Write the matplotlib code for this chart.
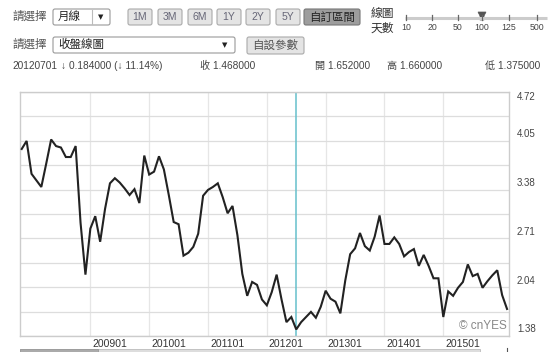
import matplotlib
matplotlib.use("Agg")
import matplotlib.pyplot as plt
from matplotlib.patches import FancyBboxPatch, Polygon, Rectangle
import numpy as np
import pandas as pd

plt.rcParams['font.family'] = ['Liberation Sans', 'Noto Sans CJK TC', 'DejaVu Sans']

# ----------------------------------------------------------------------
# data: monthly close, 2007-11 .. 2016-02 (100 months)
# ----------------------------------------------------------------------
start_month = '2007-11'
close = [3.94, 4.05, 3.60, 3.51, 3.42, 3.74, 4.07, 3.98, 3.96, 3.83,
         3.83, 3.98, 2.93, 2.22, 2.85, 3.02, 2.67, 3.12, 3.47, 3.54,
         3.48, 3.40, 3.31, 3.39, 3.20, 3.85, 3.59, 3.63, 3.84, 3.66,
         3.31, 2.94, 2.91, 2.48, 2.52, 2.60, 2.78, 3.30, 3.38, 3.42,
         3.47, 3.28, 3.06, 3.16, 2.76, 2.23, 1.93, 2.12, 2.08, 1.88,
         1.80, 1.98, 2.22, 1.88, 1.57, 1.64, 1.47, 1.57, 1.64, 1.71,
         1.63, 1.78, 2.00, 1.89, 1.85, 1.69, 2.14, 2.50, 2.58, 2.79,
         2.61, 2.55, 2.74, 3.03, 2.64, 2.64, 2.73, 2.64, 2.47, 2.53,
         2.57, 2.34, 2.49, 2.34, 2.17, 2.17, 1.64, 1.99, 1.93, 2.04,
         2.12, 2.36, 2.20, 2.23, 2.04, 2.13, 2.21, 2.28, 1.94, 1.75]
x_labels = ['200901', '201001', '201101', '201201', '201301', '201401', '201501']
y_labels = ['1.38', '2.04', '2.71', '3.38', '4.05', '4.72']
y_min, y_max = 1.38, 4.72
cursor_month = '2012-07'

info_date = '20120701'
info_change = '↓ 0.184000 (↓ 11.14%)'
info_close = '收 1.468000'
info_open = '開 1.652000'
info_high = '高 1.660000'
info_low = '低 1.375000'

range_buttons = ['1M', '3M', '6M', '1Y', '2Y', '5Y']
slider_days = ['10', '20', '50', '100', '125', '500']

months = pd.date_range(start_month, periods=len(close), freq='MS')
x = np.arange(len(close))

# ----------------------------------------------------------------------
W, H = 550, 352
fig = plt.figure(figsize=(W / 100, H / 100), dpi=100)

# header overlay in pixel coords
hdr = fig.add_axes([0, 0, 1, 1])
hdr.set_xlim(0, W)
hdr.set_ylim(H, 0)
hdr.axis('off')

GRAY_TXT = '#555555'


def box(x0, x1, y0, y1, fc='#e4e4e4', ec='#aaaaaa'):
    hdr.add_patch(FancyBboxPatch((x0, y0), x1 - x0, y1 - y0,
                                 boxstyle='round,pad=0,rounding_size=2',
                                 fc=fc, ec=ec, lw=0.8))


# row 1
hdr.text(12, 17, '請選擇', fontsize=8.3, color=GRAY_TXT, va='center')
box(53, 110, 9, 25, fc='white', ec='#999999')
hdr.plot([92, 92], [10, 24], color='#bbbbbb', lw=0.8)
hdr.text(58, 17, '月線', fontsize=8.3, color='#222222', va='center')
hdr.text(101, 17.5, '▼', fontsize=5, color='#222222', va='center', ha='center',
         family='DejaVu Sans')

bx = [128, 158, 188, 217, 246, 276]
for b, lab in zip(bx, range_buttons):
    box(b, b + 24, 9, 25)
    hdr.text(b + 12, 17.5, lab, fontsize=7.5, color='#666677', va='center', ha='center')
box(304, 360, 9, 25, fc='#9d9d9d', ec='#777777')
hdr.text(332, 17.5, '自訂區間', fontsize=8.3, color='#222222', va='center', ha='center')

hdr.text(371, 14, '線圖', fontsize=8.5, color='#333333', va='center')
hdr.text(371, 29, '天數', fontsize=8.5, color='#333333', va='center')
hdr.plot([405, 547], [18, 18], color='#cccccc', lw=2.2, solid_capstyle='butt')
sx = [406, 432, 458, 482, 509, 537]
for s, lab in zip(sx, slider_days):
    hdr.plot([s, s], [15, 20], color='#666666', lw=0.9)
    hdr.text(s, 27, lab, fontsize=6.3, color='#444444', va='center', ha='center')
hdr.add_patch(Polygon([[478, 12], [486, 12], [484, 16], [484, 20], [480, 20], [480, 16]],
                      closed=True, fc='#555555', ec='#555555', lw=0.5))

# row 2
hdr.text(12, 45, '請選擇', fontsize=8.3, color=GRAY_TXT, va='center')
box(53, 235, 37, 53, fc='white', ec='#999999')
hdr.text(58, 45, '收盤線圖', fontsize=8.3, color='#222222', va='center')
hdr.text(225, 45.5, '▼', fontsize=5, color='#222222', va='center', ha='center',
         family='DejaVu Sans')
box(247, 304, 37, 54)
hdr.text(275.5, 45.5, '自設參數', fontsize=8.3, color='#555555', va='center', ha='center')

# row 3
for tx, s in [(12, info_date), (61, info_change), (200, info_close),
              (315, info_open), (387, info_high), (485, info_low)]:
    hdr.text(tx, 66, s, fontsize=7.3, color='#444444', va='center')

# bottom scroller
hdr.add_patch(Rectangle((20, 349), 460, 4, fc='#dddddd', ec='#bbbbbb', lw=0.6))
hdr.add_patch(Rectangle((20, 349), 78, 4, fc='#aaaaaa', ec='#999999', lw=0.6))
hdr.plot([507, 507], [348, 352], color='#555555', lw=0.8)

# ----------------------------------------------------------------------
# chart
# ----------------------------------------------------------------------
L, R, T, B = 20, 509, 92, 336
ax = fig.add_axes([L / W, (H - B) / H, (R - L) / W, (B - T) / H])
ax.set_facecolor('white')

ax.plot(x, close, color='#222222', lw=1.5, zorder=3, solid_joinstyle='miter')

ax.set_xlim(-0.35, 99.4)
ax.set_ylim(y_min, y_max)

ax.set_yticks(np.linspace(y_min, y_max, 11))
ax.yaxis.grid(True, color='#dddddd', lw=0.9)
labels_all = list(months.strftime('%Y%m'))
year_pos = [labels_all.index(s) for s in x_labels]
ax.set_xticks(year_pos)
ax.xaxis.grid(True, color='#e6e6e6', lw=0.9)
ax.tick_params(length=0, labelleft=False, labelbottom=False)
ax.set_axisbelow(True)

for p, lab in zip(year_pos, x_labels):
    ax.text(p + 0.4, -0.013, lab, transform=ax.get_xaxis_transform(),
            fontsize=7.5, color='#333333', ha='left', va='top')

for lab in y_labels:
    v = float(lab)
    if lab == y_labels[-1]:
        ax.text(1.016, v, lab, transform=ax.get_yaxis_transform(), fontsize=7,
                color='#444444', va='top')
    else:
        ax.text(1.016, v + 0.03, lab, transform=ax.get_yaxis_transform(), fontsize=7,
                color='#444444', va='bottom')

cur = int(np.where(months == pd.Timestamp(cursor_month))[0][0])
ax.axvline(cur, color='#66c0cc', lw=1.1, zorder=2)

ax.text(0.995, 0.015, '© cnYES', transform=ax.transAxes, fontsize=8.5,
        color='#888888', ha='right', va='bottom')

for sp in ax.spines.values():
    sp.set_color('#cccccc')
    sp.set_linewidth(1.0)

fig.savefig('out.png', dpi=100)
